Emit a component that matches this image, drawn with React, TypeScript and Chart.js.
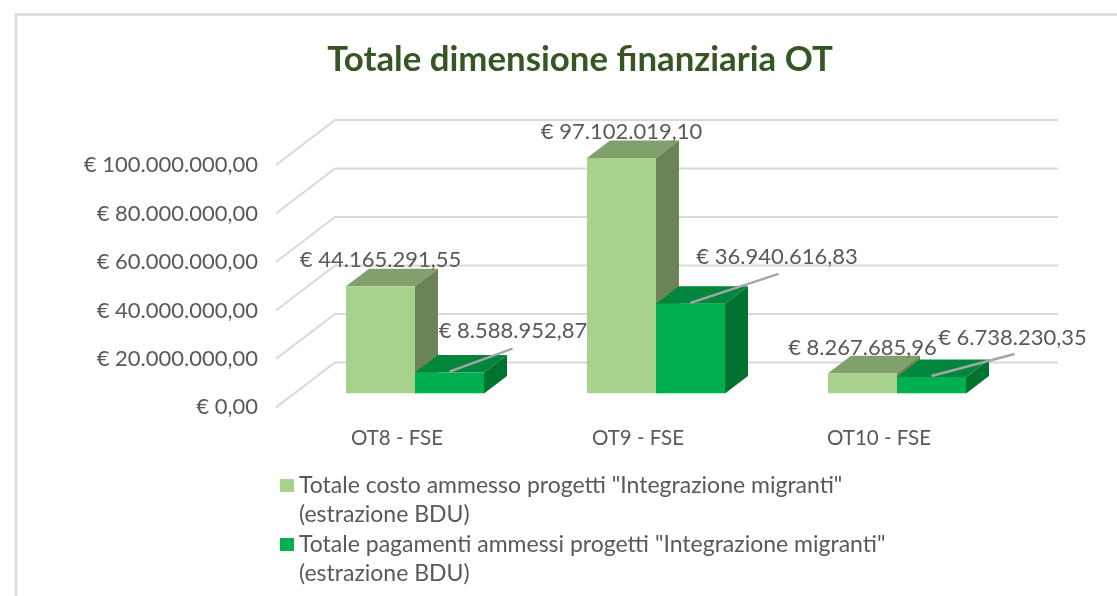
import React, { useEffect, useRef } from "react";
import { Chart, registerables } from "chart.js";

Chart.register(...registerables);

const categories = ["OT8 - FSE", "OT9 - FSE", "OT10 - FSE"];
const costoAmmesso = [44165291.55, 97102019.1, 8267685.96];
const pagamentiAmmessi = [8588952.87, 36940616.83, 6738230.35];
const seriesLabels = [
  ['Totale costo ammesso progetti "Integrazione migranti"', "(estrazione BDU)"],
  ['Totale pagamenti ammessi progetti "Integrazione migranti"', "(estrazione BDU)"],
];
const chartTitle = "Totale dimensione finanziaria OT";

const FONT = "Lato, sans-serif";
const TEXT = "#595959";
const FRONT = ["#a9d18e", "#00b050"];
const TOP = ["#80a06c", "#00873d"];
const SIDE = ["#6b8457", "#00742f"];
const DEPTH_X = 23;
const DEPTH_Y = 17.5;

const euro = (v: number) =>
  "€ " + v.toLocaleString("de-DE", { minimumFractionDigits: 2, maximumFractionDigits: 2 });

// label centre relative to the top centre of the bar's front face
const labelShift = [
  [[0, -26], [0, -26], [0, -25]],
  [[63.5, -42], [86.5, -47], [81, -39]],
];
// leader end relative to the same point (second series only)
const leaderEnd = [[63, -24], [88, -30], [83, -23]];

const poly = (ctx: CanvasRenderingContext2D, pts: number[][], fill: string) => {
  ctx.fillStyle = fill;
  ctx.beginPath();
  pts.forEach((p, i) => (i ? ctx.lineTo(p[0], p[1]) : ctx.moveTo(p[0], p[1])));
  ctx.closePath();
  ctx.fill();
};

const scene = {
  id: "scene",
  afterLayout(chart: any) {
    if (chart.legend) {
      chart.legend.left = 249.5;
      chart.legend.top = 438;
      chart.legend.bottom = chart.height;
      chart.legend.right = chart.width;
    }
    chart.scales.y.left = 30;
  },
  beforeDraw(chart: any) {
    const { ctx } = chart;
    ctx.save();
    ctx.strokeStyle = "#d9d9d9";
    ctx.lineWidth = 2.5;
    ctx.beginPath();
    ctx.moveTo(16, chart.height);
    ctx.lineTo(16, 14.5);
    ctx.lineTo(chart.width, 14.5);
    ctx.stroke();
    ctx.restore();
  },
  beforeDatasetsDraw(chart: any) {
    const { ctx, chartArea, scales } = chart;
    ctx.save();
    ctx.strokeStyle = "#d9d9d9";
    ctx.lineWidth = 2;
    scales.y.ticks.forEach((t: any) => {
      const y = scales.y.getPixelForValue(t.value);
      ctx.beginPath();
      ctx.moveTo(chartArea.left - 18.5, y + 14);
      ctx.lineTo(chartArea.left + 40.5, y - 31);
      ctx.lineTo(chartArea.right + 40.5, y - 31);
      ctx.stroke();
    });
    chart.data.datasets.forEach((_: any, d: number) => {
      chart.getDatasetMeta(d).data.forEach((bar: any) => {
        const { x, y, base, width } = bar.getProps(["x", "y", "base", "width"], true);
        const l = x - width / 2;
        const r = x + width / 2;
        poly(ctx, [[l, y], [r, y], [r + DEPTH_X, y - DEPTH_Y], [l + DEPTH_X, y - DEPTH_Y]], TOP[d]);
        poly(ctx, [[r, y], [r + DEPTH_X, y - DEPTH_Y], [r + DEPTH_X, base - DEPTH_Y], [r, base]], SIDE[d]);
      });
    });
    ctx.restore();
  },
  afterDatasetsDraw(chart: any) {
    const { ctx } = chart;
    ctx.save();
    ctx.font = `22px ${FONT}`;
    ctx.textAlign = "center";
    ctx.textBaseline = "middle";
    chart.data.datasets.forEach((ds: any, d: number) => {
      chart.getDatasetMeta(d).data.forEach((bar: any, i: number) => {
        const { x, y } = bar.getProps(["x", "y"], true);
        if (d === 1) {
          ctx.strokeStyle = "#a6a6a6";
          ctx.lineWidth = 2.5;
          ctx.beginPath();
          ctx.moveTo(x, y - 1);
          ctx.lineTo(x + leaderEnd[i][0], y + leaderEnd[i][1]);
          ctx.stroke();
        }
        ctx.fillStyle = TEXT;
        ctx.fillText(euro(ds.data[i]), x + labelShift[d][i][0], y + labelShift[d][i][1]);
      });
    });
    ctx.restore();
  },
};

export default function App() {
  const ref = useRef<HTMLCanvasElement>(null);
  useEffect(() => {
    if (!ref.current) return;
    const swatch = (color: string) => {
      const c = document.createElement("canvas");
      c.width = 14;
      c.height = 13;
      const g = c.getContext("2d")!;
      g.fillStyle = color;
      g.fillRect(0, 0, 14, 13);
      return c;
    };
    const chart = new Chart(ref.current, {
      type: "bar",
      data: {
        labels: categories,
        datasets: [
          { label: seriesLabels[0].join(" "), data: costoAmmesso, backgroundColor: FRONT[0] },
          { label: seriesLabels[1].join(" "), data: pagamentiAmmessi, backgroundColor: FRONT[1] },
        ],
      },
      options: {
        responsive: false,
        animation: false,
        events: [],
        datasets: { bar: { barPercentage: 1, categoryPercentage: 138 / 241, borderWidth: 0 } },
        layout: { padding: { left: 142.5, right: 99.5, top: 0, bottom: -16 } },
        scales: {
          x: {
            grid: { display: false, drawTicks: false },
            border: { display: false },
            ticks: { color: TEXT, font: { family: FONT, size: 20.5 }, padding: 33, maxRotation: 0, labelOffset: -18 },
          },
          y: {
            min: 0,
            max: 100000000,
            afterFit: (s: any) => { s.width = 152; },
            grid: { display: false, drawTicks: false },
            border: { display: false },
            ticks: {
              stepSize: 20000000,
              color: TEXT,
              font: { family: FONT, size: 22 },
              padding: 36.5,
              labelOffset: 14,
              callback: (v: any) => euro(Number(v)),
            },
          },
        },
        plugins: {
          tooltip: { enabled: false },
          title: {
            display: true,
            text: chartTitle,
            color: "#375623",
            font: { family: FONT, size: 34.8, weight: "bold", lineHeight: 1.2 },
            padding: { top: 39, bottom: 70.2 },
          },
          legend: {
            display: true,
            position: "bottom",
            align: "start",
            fullSize: false,
            labels: {
              color: TEXT,
              font: { family: FONT, size: 23, lineHeight: 1.27 },
              usePointStyle: true,
              pointStyleWidth: 2,
              boxHeight: 13,
              padding: 36,
              generateLabels: () =>
                seriesLabels.map((text, i) => ({
                  text,
                  fontColor: TEXT,
                  fillStyle: FRONT[i],
                  strokeStyle: FRONT[i],
                  lineWidth: 0,
                  pointStyle: swatch(FRONT[i]),
                  datasetIndex: i,
                  hidden: false,
                })),
            },
          },
        },
      },
      plugins: [scene],
    } as any);
    return () => chart.destroy();
  }, []);
  return (
    <div style={{ position: "absolute", left: 0, top: 0, width: 1117, height: 596, background: "#fff" }}>
      <canvas ref={ref} width={1117} height={596} style={{ display: "block" }} />
    </div>
  );
}
